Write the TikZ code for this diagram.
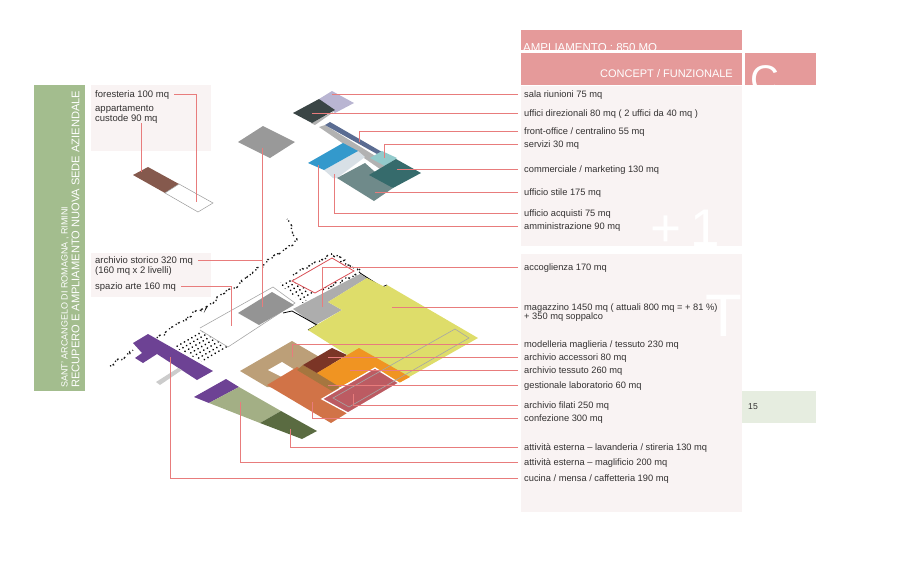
\documentclass[tikz,border=0pt]{standalone}
\usepackage{fontspec}
\setmainfont{Liberation Sans}
\usetikzlibrary{patterns.meta,decorations.pathmorphing}
\definecolor{leadercol}{HTML}{E87C7C}
\definecolor{headercol}{HTML}{E59A9A}
\definecolor{panelcol}{HTML}{F9F3F3}
\definecolor{titlecol}{HTML}{A3BD8E}
\definecolor{labelcol}{HTML}{333131}
\definecolor{tagcol}{HTML}{E6EDE0}
\definecolor{stripcol}{HTML}{5A6C92}
\definecolor{lilaccol}{HTML}{B9B5D2}
\definecolor{slatecol}{HTML}{3A4545}
\definecolor{palecol}{HTML}{D8E0E6}
\definecolor{bluecol}{HTML}{3399CC}
\definecolor{stilecol}{HTML}{6F8A8A}
\definecolor{servizicol}{HTML}{92CACB}
\definecolor{tealcol}{HTML}{366B6C}
\definecolor{browncol}{HTML}{85594D}
\definecolor{redlinecol}{HTML}{D94F55}
\definecolor{yellowcol}{HTML}{DEDD6A}
\definecolor{tancol}{HTML}{BC9F78}
\definecolor{terracol}{HTML}{D17347}
\definecolor{bandcol}{HTML}{A5763F}
\definecolor{maroncol}{HTML}{7B3526}
\definecolor{orangecol}{HTML}{F09422}
\definecolor{crimsoncol}{HTML}{BC5B62}
\definecolor{purplecol}{HTML}{6D4294}
\definecolor{sagecol}{HTML}{A3AF85}
\definecolor{mosscol}{HTML}{5A6B41}
\tikzset{
  lab/.style={anchor=west, inner xsep=6pt, inner ysep=0pt, text height=6.5pt, text depth=1.5pt,
    text=labelcol, font=\fontsize{9.3}{10}\selectfont},
  leftlab/.style={lab, inner xsep=5pt, font=\fontsize{9.5}{10}\selectfont},
  leader/.style={draw=leadercol, line width=1.3pt},
  fence/.style={draw=black!90, line width=1.3pt, dash pattern=on 1.2pt off 1.6pt on 2pt off 3.5pt,
    decorate, decoration={random steps, segment length=2.5pt, amplitude=2pt}},
  speckle/.style={pattern={Dots[distance=4.2pt, radius=0.95pt, angle=30]}, pattern color=black},
  whitetext/.style={text=white, inner sep=0pt}
}
\begin{document}
\begin{tikzpicture}[x=1pt,y=-1pt]
  \useasboundingbox (0,0) rectangle (900,560);

  % Panels
  \fill[panelcol] (521,86) rectangle (742,246);
  \fill[panelcol] (521,254) rectangle (742,512);
  \fill[panelcol] (91,85) rectangle (211,151);
  \fill[panelcol] (91,253) rectangle (211,297);
  \fill[titlecol] (34,85) rectangle (84.5,391);
  \fill[tagcol] (742,391) rectangle (816,423);

  % Big white marks on the panels
  \node[whitetext, anchor=base, font=\fontsize{53}{54}\selectfont] (plus) at (685,246) {+\,1};
  \node[whitetext, anchor=base, font=\fontsize{60}{60}\selectfont] (ground) at (724,336) {T};

  % Header
  \fill[headercol] (521,30) rectangle (742,50);
  \node[whitetext, anchor=base west, font=\fontsize{11.5}{12}\selectfont] (ampliamento) at (523,51) {AMPLIAMENTO : 850 MQ};
  \fill[white] (521,50) rectangle (742,53);
  \fill[headercol] (521,53) rectangle (742,85);
  \fill[headercol] (745,53) rectangle (816,85);
  \node[whitetext, anchor=east, font=\fontsize{11}{12}\selectfont] (concept) at (733,74) {CONCEPT / FUNZIONALE};
  \begin{scope}
    \clip (745,53) rectangle (816,85);
    \node[whitetext, anchor=base, font=\fontsize{40}{40}\selectfont] (letter) at (765,93) {C};
  \end{scope}
  \node[text=labelcol, font=\fontsize{8.6}{10}\selectfont, inner sep=0pt] (pagenum) at (753,407) {15};

  % Title, rotated
  \node[whitetext, rotate=90, anchor=west, font=\fontsize{9}{10}\selectfont] (place) at (65,388) {SANT' ARCANGELO DI ROMAGNA , RIMINI};
  \node[whitetext, rotate=90, anchor=west, font=\fontsize{11.1}{12}\selectfont] (title) at (75.5,388) {RECUPERO E AMPLIAMENTO  NUOVA SEDE AZIENDALE};

  % Upper floor
  \fill[black!30] (319,127) -- (325,125) -- (390,165) -- (380,169) -- cycle;
  \fill[stripcol] (330,122) -- (382,152) -- (377,154) -- (325,125) -- cycle;
  \fill[lilaccol] (332,91) -- (354,103) -- (335,113) -- (319,99) -- cycle;
  \fill[black!30] (335,111) -- (315,125) -- (311,123) -- cycle;
  \fill[slatecol] (319,99) -- (335,110) -- (312,123) -- (293,113) -- cycle;
  \fill[palecol] (358,151) -- (365,157) -- (337,178) -- (333,178) -- (324,170) -- cycle;
  \fill[bluecol] (343,143) -- (358,151) -- (324,170) -- (308,163) -- cycle;
  \fill[stilecol] (365,163) -- (393,188) -- (374,201) -- (337,178) -- cycle;
  \fill[servizicol] (370,158) -- (382,151) -- (397,158) -- (385,166) -- cycle;
  \fill[tealcol] (396,159) -- (421,173) -- (393,188) -- (369,175) -- cycle;
  \fill[black!40] (238,142) -- (263,126) -- (295,142) -- (270,158) -- cycle;

  % Guest quarters
  \fill[browncol] (148,167) -- (179,184) -- (165,193) -- (133,175) -- cycle;
  \draw[black!40, line width=0.5pt, fill=white] (179,184) -- (213,203) -- (198,212) -- (165,193) -- cycle;

  % Fence and dotted ground
  \draw[fence] (110,366) -- (133,350);
  \draw[fence] (157,338) -- (233,288) -- (263,265) -- (297,240) -- (287,219);
  \draw[fence] (293,275) -- (332,255) -- (360,270);
  \draw[fence] (323,290) -- (360,272);
  \fill[speckle] (174,347) -- (200,330) -- (228,347) -- (203,362) -- cycle;
  \fill[speckle] (278,283) -- (293,279) -- (315,293) -- (303,303) -- cycle;
  \draw[draw=redlinecol, line width=0.8pt, fill=white] (292,281) -- (332,258) -- (354,271) -- (315,293) -- cycle;

  % Ground floor, art space and archive
  \draw[black!35, line width=0.6pt] (200,328) -- (273,287) -- (295,303) -- (228,347);
  \draw[black!35, line width=0.6pt] (200,330) -- (228,347);
  \fill[black!42] (272,292) -- (294,305) -- (259,325) -- (238,313) -- cycle;

  % Reception and warehouse
  \fill[black!32] (360,274) -- (367,278) -- (328,302) -- (342,310) -- (315,325) -- (293,309) -- cycle;
  \draw[black, line width=0.8pt] (283,313) -- (292,311) -- (317,325) -- (308,330);
  \draw[black, line width=0.8pt] (360,273) -- (382,287) -- (387,285);
  \fill[yellowcol] (367,278) -- (385,287) -- (387,285) -- (478,338) -- (395,385) -- (308,330) -- (342,310) -- (328,302) -- cycle;

  % Production
  \fill[tancol] (240,371) -- (292,341) -- (345,372) -- (335,392) -- (267,387) -- cycle;
  \fill[white] (282,362) -- (295,370) -- (282,377) -- (268,370) -- cycle;
  \fill[terracol] (267,385) -- (297,367) -- (342,390) -- (322,399) -- (347,413) -- (331,423) -- cycle;
  \fill[bandcol] (303,365) -- (317,373) -- (342,386) -- (332,391) -- (297,370) -- cycle;
  \fill[maroncol] (332,348) -- (347,355) -- (317,373) -- (303,365) -- cycle;
  \fill[orangecol] (359,348) -- (410,377) -- (399,383) -- (375,368) -- (340,387) -- (317,373) -- cycle;
  \draw[white, line width=1.3pt, fill=crimsoncol] (375,368) -- (399,383) -- (348,413) -- (322,399) -- cycle;
  \draw[black!35, line width=0.6pt] (455,329) -- (469,338) -- (349,407) -- (333,398) -- cycle;

  % Outbuildings
  \fill[purplecol] (148,334) -- (213,371) -- (197,380) -- (157,354) -- (143,363) -- (135,358) -- (142,353) -- (133,343) -- cycle;
  \fill[black!20] (178,368) -- (182,370) -- (160,385) -- (156,382) -- cycle;
  \fill[purplecol] (226,379) -- (239,387) -- (209,403) -- (194,397) -- cycle;
  \fill[sagecol] (239,387) -- (281,411) -- (260,423) -- (209,403) -- cycle;
  \fill[mosscol] (281,411) -- (317,431) -- (302,439) -- (260,423) -- cycle;

  % Labels, right column
  \node[lab] (sala) at (518,94.5) {sala riunioni 75 mq};
  \node[lab] (direzionali) at (518,113.5) {uffici direzionali 80 mq ( 2 uffici da 40 mq )};
  \node[lab] (front) at (518,131.5) {front-office / centralino 55 mq};
  \node[lab] (servizi) at (518,144.5) {servizi 30 mq};
  \node[lab] (commerciale) at (518,169.5) {commerciale / marketing 130 mq};
  \node[lab] (stile) at (518,192.5) {ufficio stile 175 mq};
  \node[lab] (acquisti) at (518,213.5) {ufficio acquisti 75 mq};
  \node[lab] (amministrazione) at (518,226.5) {amministrazione 90 mq};
  \node[lab] (accoglienza) at (518,267.5) {accoglienza 170 mq};
  \node[lab] (magazzino) at (518,307.5) {magazzino 1450 mq ( attuali 800 mq = + 81 \%)};
  \node[lab] (soppalco) at (518,317) {+ 350 mq soppalco};
  \node[lab] (modelleria) at (518,344.5) {modelleria maglieria / tessuto 230 mq};
  \node[lab] (accessori) at (518,357.5) {archivio accessori 80 mq};
  \node[lab] (tessuto) at (518,370.5) {archivio tessuto 260 mq};
  \node[lab] (gestionale) at (518,385.5) {gestionale laboratorio 60 mq};
  \node[lab] (filati) at (518,405.5) {archivio filati 250 mq};
  \node[lab] (confezione) at (518,418.5) {confezione 300 mq};
  \node[lab] (lavanderia) at (518,447.5) {attività esterna – lavanderia / stireria 130 mq};
  \node[lab] (maglificio) at (518,462.5) {attività esterna – maglificio 200 mq};
  \node[lab] (cucina) at (518,478.5) {cucina / mensa / caffetteria 190 mq};

  % Labels, left column
  \node[leftlab] (foresteria) at (90,94.5) {foresteria 100 mq};
  \node[leftlab] (appartamento) at (90,109) {appartamento};
  \node[leftlab] (custode) at (90,119) {custode 90 mq};
  \node[leftlab] (storico) at (90,260.5) {archivio storico 320 mq};
  \node[leftlab] (livelli) at (90,271) {(160 mq x 2 livelli)};
  \node[leftlab] (arte) at (90,286.5) {spazio arte 160 mq};

  % Leader tips
  \coordinate (tipsala) at (332,94.5);
  \coordinate (tipdirezionali) at (312,113.5);
  \coordinate (tipfront) at (359.5,142);
  \coordinate (tipservizi) at (384.5,158);
  \coordinate (tipcommerciale) at (397,169.5);
  \coordinate (tipstile) at (375,192.5);
  \coordinate (tipacquisti) at (334.5,174);
  \coordinate (tipamministrazione) at (318.5,165);
  \coordinate (tipaccoglienza) at (322.5,307);
  \coordinate (tipmagazzino) at (392,307.5);
  \coordinate (tipmodelleria) at (292.5,357);
  \coordinate (tipaccessori) at (328,357.5);
  \coordinate (tiptessuto) at (350,370.5);
  \coordinate (tipgestionale) at (328,385.5);
  \coordinate (tipfilati) at (353.5,394);
  \coordinate (tipconfezione) at (312.5,402);
  \coordinate (tiplavanderia) at (290.5,429);
  \coordinate (tipmaglificio) at (240.5,402);
  \coordinate (tipcucina) at (170.5,357);
  \coordinate (tipforesteria) at (196.5,202);
  \coordinate (tipcustode) at (141.5,172);
  \coordinate (tipstorico) at (262.5,307);
  \coordinate (tiparte) at (231.5,326);
  \coordinate (topstorico) at (262.5,148);

  % Leaders
  \draw[leader] (sala.west) -- (tipsala);
  \draw[leader] (direzionali.west) -- (tipdirezionali);
  \draw[leader] (front.west) -| (tipfront);
  \draw[leader] (servizi.west) -| (tipservizi);
  \draw[leader] (commerciale.west) -- (tipcommerciale);
  \draw[leader] (stile.west) -- (tipstile);
  \draw[leader] (acquisti.west) -| (tipacquisti);
  \draw[leader] (amministrazione.west) -| (tipamministrazione);
  \draw[leader] (accoglienza.west) -| (tipaccoglienza);
  \draw[leader] (magazzino.west) -- (tipmagazzino);
  \draw[leader] (modelleria.west) -| (tipmodelleria);
  \draw[leader] (accessori.west) -- (tipaccessori);
  \draw[leader] (tessuto.west) -- (tiptessuto);
  \draw[leader] (gestionale.west) -- (tipgestionale);
  \draw[leader] (filati.west) -| (tipfilati);
  \draw[leader] (confezione.west) -| (tipconfezione);
  \draw[leader] (lavanderia.west) -| (tiplavanderia);
  \draw[leader] (maglificio.west) -| (tipmaglificio);
  \draw[leader] (cucina.west) -| (tipcucina);
  \draw[leader] (foresteria.east) -| (tipforesteria);
  \draw[leader] (tipcustode |- custode.south) -- (tipcustode);
  \draw[leader] (storico.east) -| (tipstorico);
  \draw[leader] (topstorico) -- (tipstorico);
  \draw[leader] (arte.east) -| (tiparte);
\end{tikzpicture}
\end{document}
